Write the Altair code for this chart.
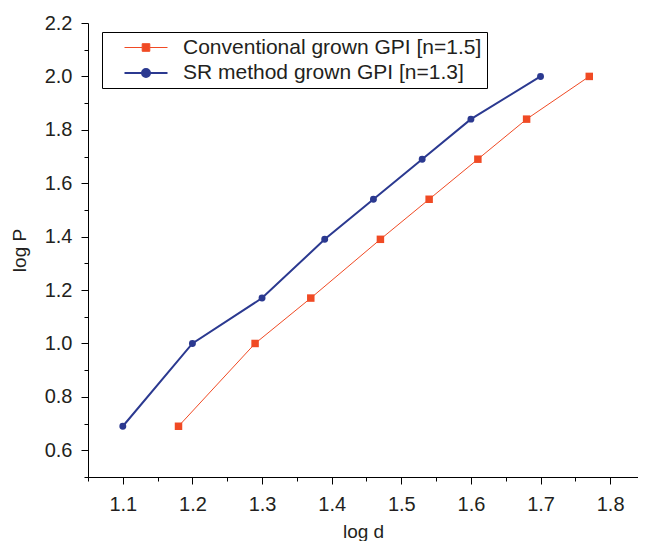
import altair as alt
import pandas as pd

series_names = ["Conventional grown GPI [n=1.5]", "SR method grown GPI [n=1.3]"]
conv_x = [1.18, 1.29, 1.37, 1.47, 1.54, 1.61, 1.68, 1.77]
conv_y = [0.69, 1.00, 1.17, 1.39, 1.54, 1.69, 1.84, 2.00]
sr_x = [1.10, 1.20, 1.30, 1.39, 1.46, 1.53, 1.60, 1.70]
sr_y = [0.69, 1.00, 1.17, 1.39, 1.54, 1.69, 1.84, 2.00]
colors = ["#F04A24", "#2B3990"]
line_widths = [1, 2]
x_major = [1.1, 1.2, 1.3, 1.4, 1.5, 1.6, 1.7, 1.8]
x_minor = [1.05, 1.15, 1.25, 1.35, 1.45, 1.55, 1.65, 1.75]
y_major = [0.6, 0.8, 1.0, 1.2, 1.4, 1.6, 1.8, 2.0, 2.2]
y_minor = [0.5, 0.7, 0.9, 1.1, 1.3, 1.5, 1.7, 1.9, 2.1]

df = pd.DataFrame({
    "x": conv_x + sr_x,
    "y": conv_y + sr_y,
    "series": [series_names[0]] * len(conv_x) + [series_names[1]] * len(sr_x),
})

FONT = "Liberation Sans"
TXT = "#231F20"
xs = alt.Scale(domain=[1.05, 1.84], nice=False, zero=False)
ys = alt.Scale(domain=[0.5, 2.2], nice=False, zero=False)

def main_x():
    return alt.X("x:Q", scale=xs, axis=alt.Axis(values=x_major, format=".1f", title="log d",
                 orient="bottom", tickSize=7, labelPadding=10, titlePadding=8, grid=False,
                 labelFlush=False, labelOverlap=False, labelFontSize=20, titleFontSize=19,
                 labelFont=FONT, titleFont=FONT, labelColor=TXT, titleColor=TXT,
                 titleFontWeight="normal"))

def main_y():
    return alt.Y("y:Q", scale=ys, axis=alt.Axis(values=y_major, format=".1f", title="log P",
                 orient="left", tickSize=7, labelPadding=9, titlePadding=15, grid=False,
                 labelFlush=False, labelOverlap=False, labelFontSize=20, titleFontSize=19,
                 labelFont=FONT, titleFont=FONT, labelColor=TXT, titleColor=TXT,
                 titleFontWeight="normal"))

def plain_x():
    return alt.X("x:Q", scale=xs, axis=None)

def plain_y():
    return alt.Y("y:Q", scale=ys, axis=None)

base = alt.Chart(df)
layers = []

# minor ticks
layers.append(base.transform_filter("false").mark_point().encode(
    x=alt.X("x:Q", scale=xs, axis=alt.Axis(values=x_minor, labels=False, title=None, tickSize=4,
            domain=False, grid=False, orient="bottom")),
    y=alt.Y("y:Q", scale=ys, axis=alt.Axis(values=y_minor, labels=False, title=None, tickSize=4,
            domain=False, grid=False, orient="left")),
))

for i, name in enumerate(series_names):
    sub = base.transform_filter(alt.datum.series == name)
    layers.append(sub.mark_line(color=colors[i], strokeWidth=line_widths[i]).encode(
        x=plain_x(), y=plain_y()))
    layers.append(sub.mark_point(filled=True, opacity=1, color=colors[i],
                                 shape=["square", "circle"][i], size=[56, 48][i]).encode(
        x=plain_x(), y=plain_y()))

square_path = "M-2.15,0H-0.38M0.38,0H2.15M-0.38,-0.38H0.38V0.38H-0.38Z"
circle_path = "M-2.15,0H-0.4M0.4,0H2.15M-0.4,0A0.4,0.4 0 1,0 0.4,0A0.4,0.4 0 1,0 -0.4,0Z"

leg = alt.Legend(title=None, orient="none", legendX=14, legendY=9, padding=5, rowPadding=4,
                 strokeColor="black", fillColor="white", cornerRadius=0,
                 labelFontSize=21, labelFont=FONT, labelColor=TXT, labelLimit=1000,
                 labelExpr="datum.label + '   '",
                 symbolSize=400, symbolOffset=28, labelOffset=26)

layers.append(base.transform_filter("false").mark_point(filled=True, opacity=1, size=400).encode(
    x=main_x(), y=main_y(),
    fill=alt.Fill("series:N", scale=alt.Scale(domain=series_names, range=colors), legend=leg),
    stroke=alt.Stroke("series:N", scale=alt.Scale(domain=series_names, range=colors), legend=leg),
    shape=alt.Shape("series:N", scale=alt.Scale(domain=series_names, range=[square_path, circle_path]), legend=leg),
    strokeWidth=alt.StrokeWidth("series:N", scale=alt.Scale(domain=series_names, range=line_widths), legend=leg),
))

chart = alt.layer(*layers).resolve_axis(x="independent", y="independent").properties(
    width=550, height=454,
    padding={"left": 2, "top": 5, "right": 0, "bottom": 0},
).configure_view(stroke=None).configure_axis(
    domainColor="black", tickColor="black", domainWidth=1, tickWidth=1,
)

chart.save("out.html", embed_options={"renderer": "svg", "actions": False})
